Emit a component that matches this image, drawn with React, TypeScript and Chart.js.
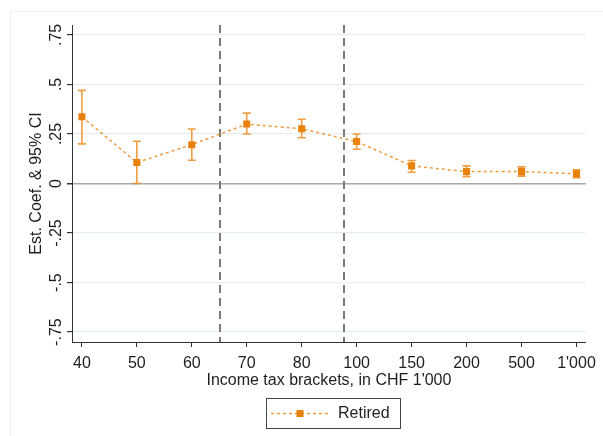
import React, { useEffect, useRef } from "react";
import { Chart, registerables } from "chart.js";

Chart.register(...registerables);

const categories = ["40", "50", "60", "70", "80", "100", "150", "200", "500", "1'000"];
const estimates = [0.337, 0.106, 0.196, 0.3, 0.276, 0.212, 0.089, 0.06, 0.06, 0.049];
const ciLow = [0.2, 0.0, 0.117, 0.25, 0.231, 0.173, 0.057, 0.034, 0.037, 0.029];
const ciHigh = [0.47, 0.213, 0.275, 0.355, 0.324, 0.25, 0.116, 0.089, 0.084, 0.069];
const yTickValues = [-0.75, -0.5, -0.25, 0, 0.25, 0.5, 0.75];
const yTickLabels = ["-.75", "-.5", "-.25", "0", ".25", ".5", ".75"];
const dividers = [2.5, 4.75];
const seriesName = "Retired";
const xTitle = "Income tax brackets, in CHF 1'000";
const yTitle = "Est. Coef. & 95% CI";

const ORANGE = "#e8820c";
const ORANGE_LIGHT = "rgba(236,140,30,0.85)";
const FONT = "Liberation Sans, Arial, sans-serif";

const overlay = {
  id: "overlay",
  beforeDatasetsDraw(chart: any) {
    const { ctx, chartArea, scales } = chart;
    const x = scales.x;
    ctx.save();
    ctx.strokeStyle = "#7a7a7a";
    ctx.lineWidth = 2;
    ctx.setLineDash([8, 5]);
    dividers.forEach((d) => {
      const px = Math.round(x.getPixelForValue(d)) + 1;
      ctx.beginPath();
      ctx.moveTo(px, chartArea.top);
      ctx.lineTo(px, chartArea.bottom);
      ctx.stroke();
    });
    ctx.setLineDash([]);
    // error bars
    const y = scales.y;
    ctx.strokeStyle = ORANGE_LIGHT;
    ctx.lineWidth = 1.6;
    estimates.forEach((_, i) => {
      const px = x.getPixelForValue(i);
      const lo = y.getPixelForValue(ciLow[i]);
      const hi = y.getPixelForValue(ciHigh[i]);
      ctx.beginPath();
      ctx.moveTo(px, lo);
      ctx.lineTo(px, hi);
      ctx.moveTo(px - 4, lo);
      ctx.lineTo(px + 4, lo);
      ctx.moveTo(px - 4, hi);
      ctx.lineTo(px + 4, hi);
      ctx.stroke();
    });
    ctx.restore();
  },
  afterDraw(chart: any) {
    const { ctx, scales, chartArea } = chart;
    const y = scales.y;
    ctx.save();
    ctx.fillStyle = "#1e1e1e";
    ctx.font = `16px ${FONT}`;
    ctx.textAlign = "center";
    ctx.textBaseline = "middle";
    yTickValues.forEach((v, i) => {
      const py = y.getPixelForValue(v);
      ctx.save();
      ctx.translate(57, py);
      ctx.rotate(-Math.PI / 2);
      ctx.fillText(yTickLabels[i], 0, 0);
      ctx.restore();
    });
    // y title
    ctx.save();
    ctx.translate(37, (chartArea.top + chartArea.bottom) / 2);
    ctx.rotate(-Math.PI / 2);
    ctx.fillText(yTitle, 0, 0);
    ctx.restore();
    // x title
    ctx.fillText(xTitle, (chartArea.left + chartArea.right) / 2, 381);
    // legend
    const lx = 266, ly = 398, lw = 134, lh = 30;
    ctx.strokeStyle = "#444";
    ctx.lineWidth = 1;
    ctx.strokeRect(lx + 0.5, ly + 0.5, lw, lh);
    const cy = ly + 15.5;
    ctx.strokeStyle = ORANGE_LIGHT;
    ctx.lineWidth = 1.5;
    ctx.setLineDash([3, 3]);
    ctx.beginPath();
    ctx.moveTo(271, cy);
    ctx.lineTo(328, cy);
    ctx.stroke();
    ctx.setLineDash([]);
    ctx.fillStyle = ORANGE;
    ctx.fillRect(296.5, cy - 3.5, 7, 7);
    ctx.fillStyle = "#1e1e1e";
    ctx.textAlign = "left";
    ctx.fillText(seriesName, 338, cy);
    ctx.restore();
  },
};

export default function App() {
  const ref = useRef<HTMLCanvasElement | null>(null);
  useEffect(() => {
    if (!ref.current) return;
    const chart = new Chart(ref.current, {
      type: "line",
      data: {
        datasets: [
          {
            label: seriesName,
            data: estimates.map((v, i) => ({ x: i, y: v })),
            borderColor: ORANGE_LIGHT,
            borderWidth: 1.5,
            borderDash: [3, 3],
            pointStyle: "rect",
            pointRadius: 5,
            pointBackgroundColor: ORANGE,
            pointBorderColor: ORANGE,
            pointBorderWidth: 0,
            tension: 0,
          },
        ],
      },
      options: {
        animation: false,
        responsive: false,
        layout: { padding: { left: 0, top: 25, right: 11, bottom: 0 } },
        plugins: { legend: { display: false }, tooltip: { enabled: false } },
        scales: {
          x: {
            type: "linear",
            min: -0.18,
            max: 9.17,
            afterFit: (s: any) => {
              s.height = 94;
            },
            ticks: {
              stepSize: 1,
              includeBounds: false,
              autoSkip: false,
              maxRotation: 0,
              padding: 7,
              color: "#1e1e1e",
              font: { size: 16, family: FONT },
              callback: (v: any) => categories[v as number] ?? "",
            },
            grid: {
              drawOnChartArea: false,
              drawTicks: true,
              tickLength: 5,
              tickColor: "#333",
            },
            border: { display: true, color: "#333", width: 1 },
          },
          y: {
            type: "linear",
            min: -0.8,
            max: 0.8,
            afterFit: (s: any) => {
              s.width = 72;
            },
            afterBuildTicks: (s: any) => {
              s.ticks = yTickValues.map((v) => ({ value: v }));
            },
            ticks: { display: false },
            grid: {
              drawTicks: true,
              tickLength: 5,
              tickColor: "#333",
              color: (c: any) => (c.tick && c.tick.value === 0 ? "#a8a8a8" : "#e6eef0"),
              lineWidth: (c: any) => (c.tick && c.tick.value === 0 ? 1.5 : 1.2),
            },
            border: { display: true, color: "#333", width: 1 },
          },
        },
      },
      plugins: [overlay],
    });
    return () => chart.destroy();
  }, []);
  return (
    <div
      style={{
        position: "fixed",
        left: 0,
        top: 0,
        width: 603,
        height: 436,
        background: "#fff",
      }}
    >
      <div
        style={{
          position: "absolute",
          left: 10,
          top: 11,
          width: 620,
          height: 440,
          border: "1px solid #eef3f4",
        }}
      />
      <canvas ref={ref} width={603} height={436} style={{ position: "absolute", left: 0, top: 0 }} />
    </div>
  );
}
